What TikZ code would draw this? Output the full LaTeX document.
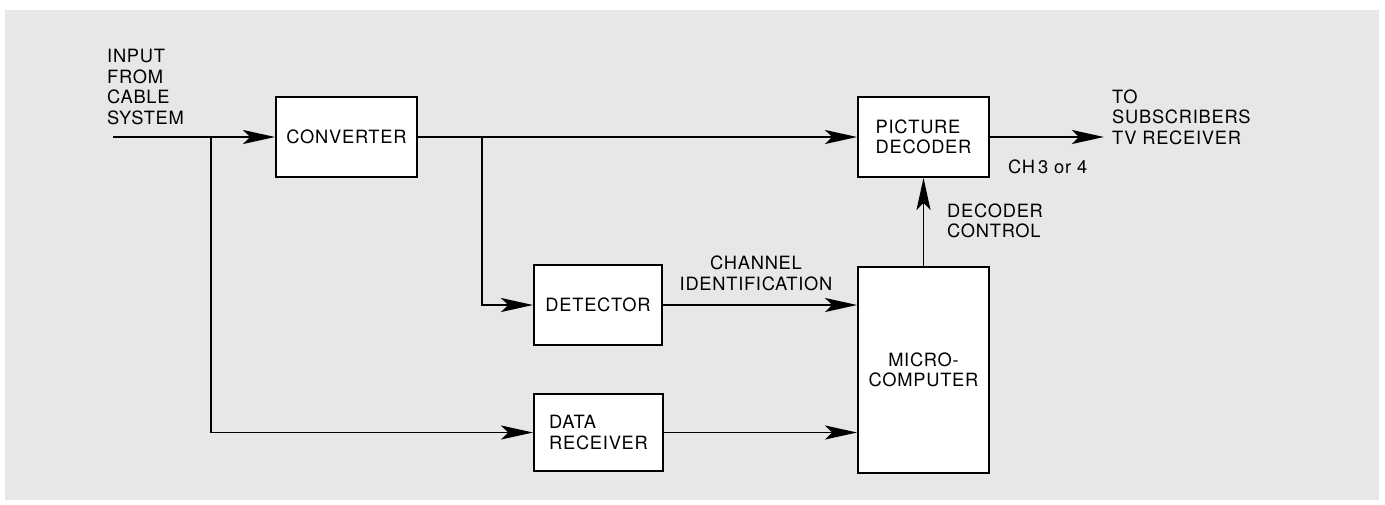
\documentclass[tikz,border=0pt]{standalone}
\usepackage{fontspec}
\setmainfont[LetterSpace=4]{TeX Gyre Heros}
\usetikzlibrary{arrows.meta}
\definecolor{panel}{HTML}{E7E7E7}
\begin{document}
\begin{tikzpicture}[x=1pt,y=-1pt,
  every node/.style={font=\fontsize{18.3}{20.5}\selectfont},
  blk/.style={draw=black, line width=1.9pt, fill=white, inner sep=0pt},
  lbl/.style={inner sep=0pt, align=left, anchor=north west},
  conn/.style={line width=1.8pt},
  arr/.style={conn, -{Stealth[length=32pt,width=14pt,inset=7pt]}}]
\useasboundingbox (0,0) rectangle (1385,504);
\fill[white] (0,0) rectangle (1385,504);
\fill[panel] (5,10) rectangle (1379,500);

\node[blk, minimum width=141pt, minimum height=80pt] (conv) at (346.5,137) {CONVERTER};
\node[blk, minimum width=131pt, minimum height=80pt, align=left] (pd) at (923.5,137) {PICTURE\\DECODER};
\node[blk, minimum width=128pt, minimum height=80pt] (det) at (598,305) {DETECTOR};
\node[blk, minimum width=129pt, minimum height=77pt, align=left] (dr) at (598.5,432.5) {DATA\\RECEIVER};
\node[blk, minimum width=131pt, minimum height=206pt, align=center] (mc) at (923.5,370) {MICRO-\\COMPUTER};

\node[lbl] (inlbl) at (107,49) {INPUT\\FROM\\CABLE\\SYSTEM};
\node[lbl] (outlbl) at (1112,89.3) {TO\\SUBSCRIBERS\\TV RECEIVER};
\node[lbl] (chlbl) at (1008,160) {CH\,3 or 4};
\node[lbl] (dclbl) at (947,203.3) {DECODER\\CONTROL};
\node[inner sep=0pt, align=center, anchor=north] (cilbl) at (756,256) {CHANNEL\\IDENTIFICATION};

\coordinate (in) at (113,137);
\coordinate (b1) at (211,137);
\coordinate (b2) at (482,137);
\coordinate (out) at (1104,137);

\draw[arr] (in) -- (conv.west);
\draw[arr] (b1) |- (dr.west);
\draw[arr] (conv.east) -- (pd.west);
\draw[arr] (b2) |- (det.west);
\draw[arr] (det.east) -- (mc.west |- det.east);
\draw[arr] (dr.east) -- (mc.west |- dr.east);
\draw[arr] (mc.north) -- (pd.south);
\draw[arr] (pd.east) -- (out);
\end{tikzpicture}
\end{document}
